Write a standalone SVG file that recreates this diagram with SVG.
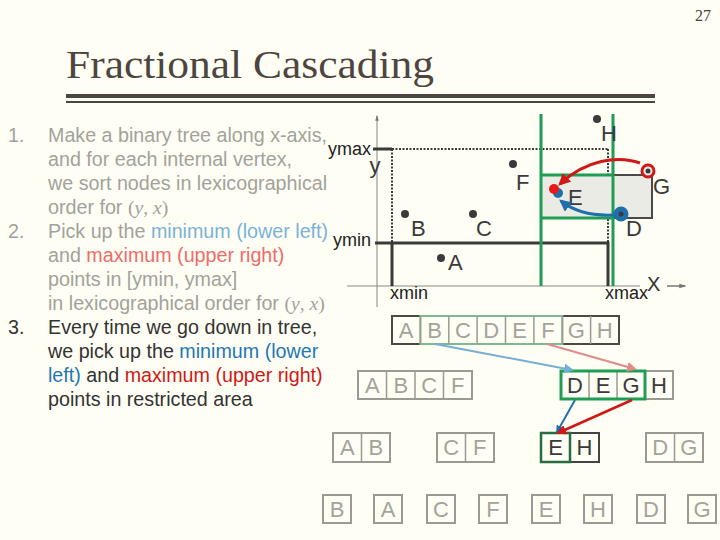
<svg xmlns="http://www.w3.org/2000/svg" width="720" height="540" viewBox="0 0 720 540">
<defs>
<marker id="mRed" viewBox="0 0 10 10" refX="8" refY="5" markerWidth="4" markerHeight="4" orient="auto"><path d="M0,0 L10,5 L0,10 z" fill="#d01818"/></marker>
<marker id="mBlue" viewBox="0 0 10 10" refX="8" refY="5" markerWidth="4" markerHeight="4" orient="auto"><path d="M0,0 L10,5 L0,10 z" fill="#1f6faa"/></marker>
<marker id="mLBlue" viewBox="0 0 10 10" refX="8" refY="5" markerWidth="5" markerHeight="5" orient="auto"><path d="M0,0 L10,5 L0,10 z" fill="#74aed2"/></marker>
<marker id="mLRed" viewBox="0 0 10 10" refX="8" refY="5" markerWidth="5" markerHeight="5" orient="auto"><path d="M0,0 L10,5 L0,10 z" fill="#e08a8a"/></marker>
<marker id="mAx" viewBox="0 0 10 10" refX="8" refY="5" markerWidth="6" markerHeight="6" orient="auto"><path d="M0,2 L10,5 L0,8 z" fill="#777"/></marker>
</defs>
<style>
.txt{font-family:"Liberation Sans",Arial,sans-serif;font-size:19.7px}
.g{fill:#a2a29c}
.lb{fill:#7ab3d8}
.lr{fill:#ee6b6b}
.dk{fill:#333}
.bl{fill:#1f78b4}
.rd{fill:#d01818}
.math{font-family:"Liberation Serif",serif}
.it{font-style:italic}
.lab{font-family:"Liberation Sans",Arial,sans-serif;font-size:18px;fill:#222}
.pl{font-family:"Liberation Sans",Arial,sans-serif;font-size:22px;fill:#3a3a3a}
.dot{fill:#3a3a3a}
.cell{font-family:"Liberation Sans",Arial,sans-serif;font-size:22px;text-anchor:middle}
.gbox{fill:none;stroke:#9a9a90;stroke-width:2}
.gsep{stroke:#9a9a90;stroke-width:1.5}
.gl{fill:#a3a39b}
.dl{fill:#3a3a3a}
.green{stroke:#1f9d55;stroke-width:3;fill:none}
</style>
<rect width="720" height="540" fill="#fefef4"/>

<text x="711" y="21" font-family="Liberation Serif,serif" font-size="16" fill="#444" text-anchor="end">27</text>
<text x="66" y="78" font-family="Liberation Serif,serif" font-size="40" fill="#4d4640" textLength="368" lengthAdjust="spacingAndGlyphs">Fractional Cascading</text>
<rect x="66" y="94" width="589" height="4" fill="#4d4640"/>
<rect x="66" y="101" width="589" height="2" fill="#4d4640"/>

<g id="text-list" class="txt">
<text x="8" y="142" class="g">1.</text>
<text x="48" y="142" class="g">Make a binary tree along x-axis,</text>
<text x="48" y="166" class="g">and for each internal vertex,</text>
<text x="48" y="190" class="g">we sort nodes in lexicographical</text>
<text x="48" y="214" class="g">order for <tspan class="math">(<tspan class="it">y</tspan>, <tspan class="it">x</tspan>)</tspan></text>
<text x="8" y="238" class="g">2.</text>
<text x="48" y="238" class="g">Pick up the <tspan class="lb">minimum (lower left)</tspan></text>
<text x="48" y="262" class="g">and <tspan class="lr">maximum (upper right)</tspan></text>
<text x="48" y="286" class="g">points in [ymin, ymax]</text>
<text x="48" y="310" class="g">in lexicographical order for <tspan class="math">(<tspan class="it">y</tspan>, <tspan class="it">x</tspan>)</tspan></text>
<text x="8" y="334" class="dk">3.</text>
<text x="48" y="334" class="dk">Every time we go down in tree,</text>
<text x="48" y="358" class="dk">we pick up the <tspan class="bl">minimum (lower</tspan></text>
<text x="48" y="382" class="bl">left)<tspan class="dk"> and </tspan><tspan class="rd">maximum (upper right)</tspan></text>
<text x="48" y="406" class="dk">points in restricted area</text>
</g>

<g id="plot">
<line x1="377" y1="307" x2="377" y2="116" stroke="#888" stroke-width="1" marker-end="url(#mAx)"/>
<line x1="347" y1="286" x2="640" y2="286" stroke="#888" stroke-width="1"/>
<text x="647" y="291" font-family="Liberation Sans,Arial,sans-serif" font-size="20" fill="#333">X</text>
<line x1="667" y1="286" x2="685" y2="286" stroke="#555" stroke-width="1.2" marker-end="url(#mAx)"/>
<text x="375" y="173" class="pl" text-anchor="middle">y</text>
<text x="371" y="155" class="lab" text-anchor="end">ymax</text>
<text x="371" y="246" class="lab" text-anchor="end">ymin</text>
<text x="390" y="299" class="lab">xmin</text>
<text x="605" y="299" class="lab">xmax</text>
<line x1="373" y1="149" x2="392" y2="149" stroke="#3a3a3a" stroke-width="3"/>
<line x1="392" y1="149" x2="608" y2="149" stroke="#3a3a3a" stroke-width="2" stroke-dasharray="2,1.5"/>
<line x1="392" y1="149" x2="392" y2="243" stroke="#3a3a3a" stroke-width="2" stroke-dasharray="2,1.5"/>
<line x1="608" y1="149" x2="608" y2="243" stroke="#3a3a3a" stroke-width="2" stroke-dasharray="2,1.5"/>
<path d="M375,243 H608 V286 M392,243 V286" fill="none" stroke="#3a3a3a" stroke-width="3"/>
<rect x="541" y="175" width="111" height="43" fill="#ebebe5"/>
<path d="M613,175 H652 V218 H613" fill="none" stroke="#4a4a4a" stroke-width="2"/>
<line x1="541" y1="114" x2="541" y2="286" class="green"/>
<line x1="613" y1="114" x2="613" y2="286" class="green"/>
<line x1="541" y1="175" x2="613" y2="175" class="green"/>
<line x1="541" y1="218" x2="613" y2="218" class="green"/>
</g>

<g id="pt-H"><circle cx="597" cy="119" r="4" class="dot"/><text x="601" y="141" class="pl">H</text></g>
<g id="pt-F"><circle cx="513" cy="164" r="4" class="dot"/><text x="516" y="190" class="pl">F</text></g>
<g id="pt-B"><circle cx="405" cy="214" r="4" class="dot"/><text x="411" y="236" class="pl">B</text></g>
<g id="pt-C"><circle cx="473" cy="214" r="4" class="dot"/><text x="476" y="236" class="pl">C</text></g>
<g id="pt-A"><circle cx="441" cy="258" r="4" class="dot"/><text x="448" y="270" class="pl">A</text></g>
<g id="pt-E"><circle cx="558" cy="193" r="5" fill="#1f6faa"/><circle cx="554" cy="189" r="5" fill="#e81818"/><text x="568" y="205" class="pl">E</text></g>
<g id="pt-G"><circle cx="648" cy="171" r="6" fill="#eeeeea" stroke="#d01818" stroke-width="3"/><circle cx="648" cy="171" r="2.5" class="dot"/><text x="653" y="194" class="pl">G</text></g>
<g id="pt-D"><circle cx="621" cy="214" r="6.5" fill="#1f6faa" stroke="#1f6faa" stroke-width="2"/><circle cx="621" cy="214" r="2.5" class="dot"/><text x="626" y="236" class="pl">D</text></g>

<g id="arrays">
<g id="arr-top">
<rect x="392" y="316" width="227" height="28" fill="none" stroke="#4a4a44" stroke-width="2"/>
<rect x="420.4" y="316" width="142" height="28" fill="none" stroke="#7fb894" stroke-width="2"/>
<g class="gsep"><line x1="420.4" y1="316" x2="420.4" y2="344"/><line x1="448.8" y1="316" x2="448.8" y2="344"/><line x1="477.1" y1="316" x2="477.1" y2="344"/><line x1="505.5" y1="316" x2="505.5" y2="344"/><line x1="533.9" y1="316" x2="533.9" y2="344"/><line x1="562.3" y1="316" x2="562.3" y2="344"/><line x1="590.6" y1="316" x2="590.6" y2="344"/></g>
<g class="cell gl"><text x="406.2" y="338">A</text><text x="434.6" y="338">B</text><text x="463" y="338">C</text><text x="491.3" y="338">D</text><text x="519.7" y="338">E</text><text x="548.1" y="338">F</text><text x="576.4" y="338">G</text><text x="604.8" y="338">H</text></g>
</g>
<g id="arr-l1">
<rect x="358" y="371" width="114" height="28" class="gbox"/>
<g class="gsep"><line x1="386.5" y1="371" x2="386.5" y2="399"/><line x1="415" y1="371" x2="415" y2="399"/><line x1="443.5" y1="371" x2="443.5" y2="399"/></g>
<g class="cell gl"><text x="372.3" y="393">A</text><text x="400.8" y="393">B</text><text x="429.3" y="393">C</text><text x="457.8" y="393">F</text></g>
</g>
<g id="arr-r1">
<rect x="561" y="371" width="112" height="28" class="gbox"/>
<g class="gsep"><line x1="589" y1="371" x2="589" y2="399"/><line x1="617" y1="371" x2="617" y2="399"/></g>
<rect x="561" y="371" width="84" height="28" fill="none" stroke="#1f9d55" stroke-width="3"/>
<g class="cell dl"><text x="575" y="393">D</text><text x="603" y="393">E</text><text x="631" y="393">G</text><text x="659" y="393">H</text></g>
</g>
<g id="arr-ab">
<rect x="333" y="433" width="57" height="29" class="gbox"/><line x1="361.5" y1="433" x2="361.5" y2="462" class="gsep"/>
<g class="cell gl"><text x="347.3" y="455">A</text><text x="375.8" y="455">B</text></g>
</g>
<g id="arr-cf">
<rect x="437" y="433" width="57" height="29" class="gbox"/><line x1="465.5" y1="433" x2="465.5" y2="462" class="gsep"/>
<g class="cell gl"><text x="451.3" y="455">C</text><text x="479.8" y="455">F</text></g>
</g>
<g id="arr-eh">
<rect x="570" y="433" width="29" height="29" fill="none" stroke="#444" stroke-width="2"/>
<rect x="541" y="433" width="29" height="29" fill="none" stroke="#2a6a45" stroke-width="2.5"/>
<g class="cell dl"><text x="555.5" y="455">E</text><text x="584.5" y="455">H</text></g>
</g>
<g id="arr-dg">
<rect x="646" y="433" width="57" height="29" class="gbox"/><line x1="674.5" y1="433" x2="674.5" y2="462" class="gsep"/>
<g class="cell gl"><text x="660.3" y="455">D</text><text x="688.8" y="455">G</text></g>
</g>
<g id="leaves">
<rect x="323" y="495" width="28" height="28" class="gbox"/>
<rect x="374" y="495" width="28" height="28" class="gbox"/>
<rect x="427" y="495" width="28" height="28" class="gbox"/>
<rect x="479" y="495" width="28" height="28" class="gbox"/>
<rect x="532" y="495" width="28" height="28" class="gbox"/>
<rect x="584" y="495" width="28" height="28" class="gbox"/>
<rect x="637" y="495" width="28" height="28" class="gbox"/>
<rect x="688" y="495" width="28" height="28" class="gbox"/>
<g class="cell gl"><text x="337" y="517">B</text><text x="388" y="517">A</text><text x="441" y="517">C</text><text x="493" y="517">F</text><text x="546" y="517">E</text><text x="598" y="517">H</text><text x="651" y="517">D</text><text x="702" y="517">G</text></g>
</g>
</g>

<g id="connectors" fill="none">
<path d="M640,163 C618,155 585,160 560,184" stroke="#d01818" stroke-width="3" marker-end="url(#mRed)"/>
<path d="M614,215 C594,216 575,212 561,201" stroke="#1f6faa" stroke-width="3" marker-end="url(#mBlue)"/>
<line x1="435" y1="344" x2="572" y2="370" stroke="#74aed2" stroke-width="2" marker-end="url(#mLBlue)"/>
<line x1="547" y1="344" x2="635" y2="369" stroke="#e08a8a" stroke-width="2" marker-end="url(#mLRed)"/>
<line x1="575" y1="400" x2="557" y2="432" stroke="#1f6faa" stroke-width="2" marker-end="url(#mBlue)"/>
<line x1="632" y1="400" x2="558" y2="433" stroke="#d01818" stroke-width="2.5" marker-end="url(#mRed)"/>
</g>
</svg>
